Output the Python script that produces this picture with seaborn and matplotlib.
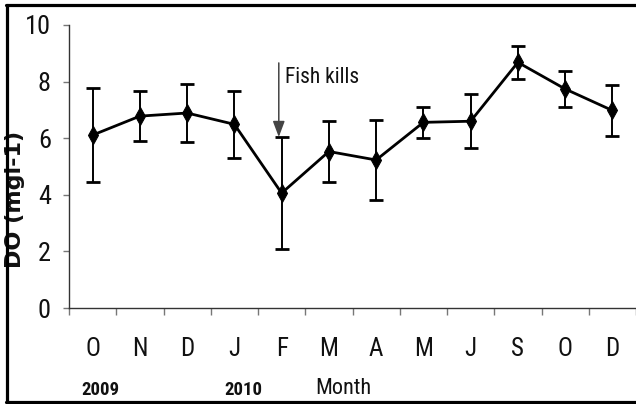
import matplotlib
matplotlib.use("Agg")
import matplotlib.pyplot as plt
from matplotlib import font_manager
from matplotlib.lines import Line2D
import numpy as np
import pandas as pd
import seaborn as sns

# Monthly dissolved oxygen, Oct 2009 - Dec 2010 (mean +/- SD)
months = ["O", "N", "D", "J", "F", "M", "A", "M", "J", "S", "O", "D"]
do_mean = [6.11, 6.78, 6.89, 6.49, 4.06, 5.53, 5.23, 6.56, 6.60, 8.68, 7.74, 6.98]
do_sd = [1.66, 0.88, 1.01, 1.18, 1.98, 1.07, 1.41, 0.55, 0.96, 0.58, 0.62, 0.91]
year_labels = ["2009", "2010"]
year_positions = [0.17, 3.2]
event_label = "Fish kills"
event_month = 4

sns.set_theme(style="white")


def pick_narrow_font():
    """Return (family, stretch) for the narrowest sans font available."""
    fonts = font_manager.fontManager.ttflist
    names = {f.name for f in fonts}
    for cand in ["Liberation Sans Narrow", "Roboto Condensed", "Open Sans Condensed",
                 "Arial Narrow", "Noto Sans Condensed"]:
        if cand in names:
            return cand, "normal"
    for f in fonts:
        if f.name in ("DejaVu Sans", "Noto Sans", "Open Sans", "Roboto") and \
                str(f.stretch) in ("condensed", "semi-condensed", "extra-condensed"):
            return f.name, "condensed"
    return "Liberation Sans", "normal"


narrow_family, narrow_stretch = pick_narrow_font()
plt.rcParams["font.family"] = [narrow_family, "DejaVu Sans"]
plt.rcParams["font.stretch"] = narrow_stretch

df = pd.DataFrame({"pos": np.arange(len(months)), "do": do_mean, "sd": do_sd})

W, H = 636, 404
fig = plt.figure(figsize=(W / 100, H / 100), dpi=100)
ax = fig.add_axes([69 / W, (H - 308) / H, (W - 69) / W, (308 - 25) / H])

ax.errorbar(df["pos"], df["do"], yerr=df["sd"], fmt="none", ecolor="black",
            elinewidth=1.4, capsize=5, capthick=2.0, zorder=2)
sns.lineplot(data=df, x="pos", y="do", ax=ax, color="black", linewidth=2.0,
             marker="d", markersize=9, markeredgecolor="black",
             markerfacecolor="black", zorder=3)

ax.set_xlim(-0.5, len(months) - 0.5)
ax.set_ylim(0, 10)
ax.set_yticks(np.arange(0, 11, 2))
ax.set_xticks(df["pos"])
ax.set_xticklabels(months)
ax.set_xticks(np.arange(-0.5, len(months)), minor=True)
ax.tick_params(axis="x", which="major", length=0, pad=21, labelsize=18,
               labelcolor="#111111")
ax.tick_params(axis="x", which="minor", length=5, width=1, color="#777777",
               direction="out", bottom=True)
ax.tick_params(axis="y", length=4, width=1, color="#777777", direction="out",
               left=True, pad=9, labelsize=19, labelcolor="#111111")
ax.set_xlabel("")
ax.set_ylabel("DO (mgl-1)", family=["DejaVu Sans"], stretch="normal",
              fontsize=16, fontweight="bold", color="#111111")
ax.yaxis.set_label_coords(-0.077, 0.382)

for side in ["top", "right"]:
    ax.spines[side].set_visible(False)
for side in ["left", "bottom"]:
    ax.spines[side].set_color("#333333")
    ax.spines[side].set_linewidth(1.0)

# Fish-kill event arrow pointing at the top of February's error bar
tip = do_mean[event_month] + do_sd[event_month]
ax.annotate("", xy=(event_month - 0.06, tip), xytext=(event_month - 0.06, 8.66),
            arrowprops=dict(arrowstyle="-|>,head_length=0.8,head_width=0.3",
                            color="#444444", lw=1.1, shrinkA=0, shrinkB=0))
ax.text(event_month + 0.07, 8.15, event_label, fontsize=15.5, va="center",
        ha="left", color="#111111")

# Year markers and axis title under the month labels
for lbl, xp in zip(year_labels, year_positions):
    ax.text(xp, -2.9, lbl, fontsize=13.5, fontweight="bold", ha="center",
            va="center", color="#111111")
ax.text(5.3, -2.83, "Month", fontsize=16, ha="center", va="center",
        color="#111111")

# Frame around the figure
frame_kw = dict(color="black", linewidth=2.3, transform=fig.transFigure)
fig.add_artist(Line2D([6.5 / W, 6.5 / W], [1 - 5 / H, 1 - 402 / H], **frame_kw))
fig.add_artist(Line2D([5.5 / W, 1.0], [1 - 5 / H, 1 - 5 / H], **frame_kw))
fig.add_artist(Line2D([5.5 / W, 1.0], [1 - 402 / H, 1 - 402 / H], **frame_kw))

fig.savefig("out.png", dpi=100)
